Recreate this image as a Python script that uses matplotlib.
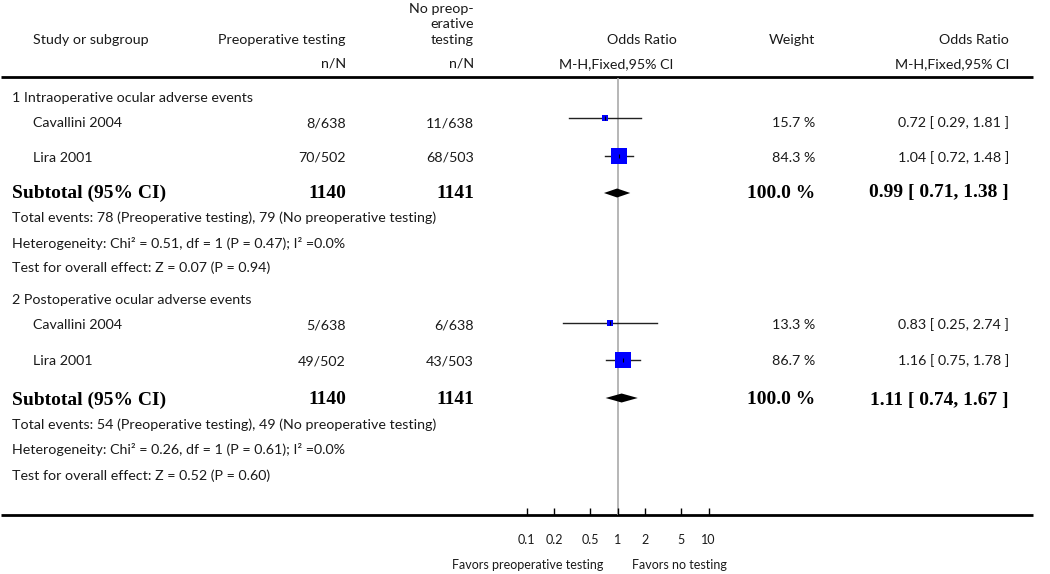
import matplotlib
matplotlib.use('Agg')
from matplotlib import pyplot as plt
import numpy as np

# data
groups = ['1 Intraoperative ocular adverse events', '2 Postoperative ocular adverse events']
studies = ['Cavallini 2004', 'Lira 2001']

pre_n = [[8, 70], [5, 49]]
pre_N = [[638, 502], [638, 502]]
no_n = [[11, 68], [6, 43]]
no_N = [[638, 503], [638, 503]]
odds = [[0.72, 1.04], [0.83, 1.16]]
ci_lo = [[0.29, 0.72], [0.25, 0.75]]
ci_hi = [[1.81, 1.48], [2.74, 1.78]]
weights = [[15.7, 84.3], [13.3, 86.7]]

sub_or = [0.99, 1.11]
sub_lo = [0.71, 0.74]
sub_hi = [1.38, 1.67]
sub_pre = [1140, 1140]
sub_no = [1141, 1141]
total_events = ['Total events: 78 (Preoperative testing), 79 (No preoperative testing)',
                'Total events: 54 (Preoperative testing), 49 (No preoperative testing)']
heterog = ['Heterogeneity: Chi\u00b2 = 0.51, df = 1 (P = 0.47); I\u00b2 =0.0%',
           'Heterogeneity: Chi\u00b2 = 0.26, df = 1 (P = 0.61); I\u00b2 =0.0%']
overall = ['Test for overall effect: Z = 0.07 (P = 0.94)',
           'Test for overall effect: Z = 0.52 (P = 0.60)']

tick_vals = [0.1, 0.2, 0.5, 1, 2, 5, 10]
tick_labels = ['0.1', '0.2', '0.5', '1', '2', '5', '10']

W, H = 1050, 574
sans = 'Lato'
serif = 'Liberation Serif'
tc = '#1a1a1a'
fs = 10.3
fsb = 14

# layout (pixel rows)
x_pre, x_no, x_w, x_or = 346, 474, 815, 1009
line_end = 1033
rows_y = [[98, 123, 158, 193, 218, 243, 268], [300, 325, 361, 400, 425, 450, 476]]
mark_y = [[118, 156, 193], [323, 360, 398]]

fig = plt.figure(figsize=(W / 100, H / 100), dpi=100)
ax = fig.add_axes([0, 0, 1, 1])
ax.set_xlim(0, W)
ax.set_ylim(H, 0)
ax.axis('off')

# forest panel, log scale, 1 at x=617.5 and 91 px per decade
y_top, y_bot = 78, 515
axf = fig.add_axes([435.5 / W, (H - y_bot) / H, 364 / W, (y_bot - y_top) / H])
axf.set_xscale('log')
axf.set_xlim(0.01, 100)
axf.set_ylim(y_bot, y_top)
axf.patch.set_alpha(0)
for s in axf.spines.values():
    s.set_visible(False)
axf.set_yticks([])
axf.set_xticks(tick_vals)
axf.set_xticklabels(tick_labels, fontfamily=sans, fontsize=9, color=tc)
axf.xaxis.set_minor_locator(matplotlib.ticker.NullLocator())
axf.tick_params(axis='x', direction='in', length=5, width=1, pad=14, color='black')
axf.axvline(1, color='#aaaaaa', lw=1.2, zorder=0)


def txt(x, y, s, ha='left', bold=False, size=None):
    if bold:
        ax.text(x, y, s, ha=ha, va='center', fontfamily=serif, fontweight='bold',
                fontsize=size or fsb, color='black')
    else:
        ax.text(x, y, s, ha=ha, va='center', fontfamily=sans, fontsize=size or fs, color=tc)


# header
txt(33, 40, 'Study or subgroup')
txt(x_pre, 40, 'Preoperative testing', ha='right')
txt(x_no, 9, 'No preop-', ha='right')
txt(x_no, 24, 'erative', ha='right')
txt(x_no, 40, 'testing', ha='right')
txt(x_pre, 64, 'n/N', ha='right')
txt(x_no, 64, 'n/N', ha='right')
txt(677, 40, 'Odds Ratio', ha='right')
txt(673, 64, 'M-H,Fixed,95% CI', ha='right')
txt(x_w, 40, 'Weight', ha='right')
txt(x_or, 40, 'Odds Ratio', ha='right')
txt(x_or, 64, 'M-H,Fixed,95% CI', ha='right')

ax.plot([1, line_end], [77, 77], color='black', lw=2, solid_capstyle='butt')
ax.plot([1, line_end], [515, 515], color='black', lw=2, solid_capstyle='butt')

for g in range(2):
    ry = rows_y[g]
    my = mark_y[g]
    txt(12, ry[0], groups[g])
    for i in range(2):
        y = ry[1 + i]
        txt(33, y, studies[i])
        txt(x_pre, y, '%d/%d' % (pre_n[g][i], pre_N[g][i]), ha='right')
        txt(x_no, y, '%d/%d' % (no_n[g][i], no_N[g][i]), ha='right')
        txt(x_w, y, '%.1f %%' % weights[g][i], ha='right')
        txt(x_or, y, '%.2f [ %.2f, %.2f ]' % (odds[g][i], ci_lo[g][i], ci_hi[g][i]), ha='right')
        ym = my[i]
        axf.plot([ci_lo[g][i], ci_hi[g][i]], [ym, ym], color='#222222', lw=1, zorder=2)
        side = 1.68 * np.sqrt(weights[g][i])
        axf.plot(odds[g][i], ym, marker='s', markersize=side * 0.72, color='#0000ff',
                 markeredgewidth=0, zorder=3)
        axf.plot(odds[g][i], ym, marker='|', markersize=2.5, color='black', mew=0.8, zorder=4)
    ys = ry[3]
    txt(12, ys, 'Subtotal (95% CI)', bold=True)
    txt(x_pre, ys, str(sub_pre[g]), ha='right', bold=True)
    txt(x_no, ys, str(sub_no[g]), ha='right', bold=True)
    txt(x_w, ys, '100.0 %', ha='right', bold=True)
    txt(x_or, ys, '%.2f [ %.2f, %.2f ]' % (sub_or[g], sub_lo[g], sub_hi[g]), ha='right', bold=True)
    yd = my[2]
    axf.fill([sub_lo[g], sub_or[g], sub_hi[g], sub_or[g]], [yd, yd - 4.5, yd, yd + 4.5],
             color='black', lw=0, zorder=3)
    txt(12, ry[4], total_events[g])
    txt(12, ry[5], heterog[g])
    txt(12, ry[6], overall[g])

txt(603, 565, 'Favors preoperative testing', ha='right', size=9)
txt(632, 565, 'Favors no testing', size=9)

fig.savefig('out.png', dpi=100)
